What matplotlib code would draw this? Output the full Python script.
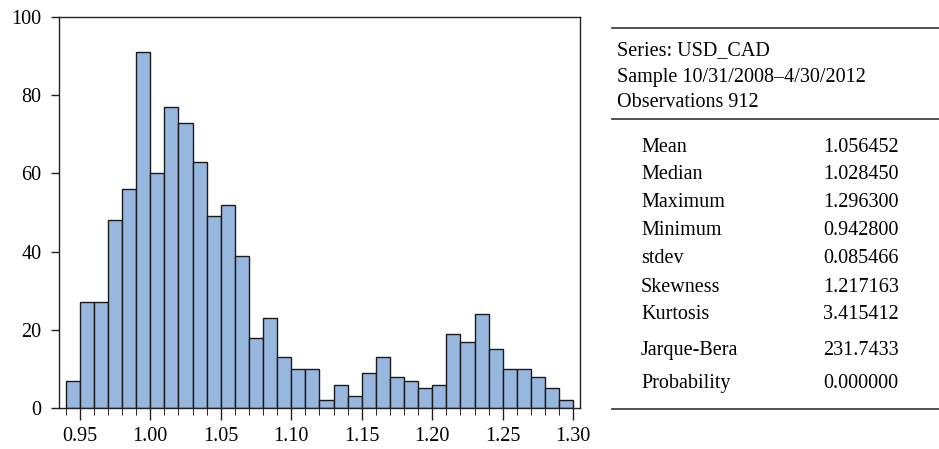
import numpy as np
import matplotlib
matplotlib.use("Agg")
import matplotlib.pyplot as plt
from matplotlib.lines import Line2D
from matplotlib.ticker import MultipleLocator

# histogram of USD_CAD, bins of width 0.01 starting at 0.94
counts = [7, 27, 27, 48, 56, 91, 60, 77, 73, 63, 49, 52, 39, 18, 23, 13, 10, 10,
          2, 6, 3, 9, 13, 8, 7, 5, 6, 19, 17, 24, 15, 10, 10, 8, 5, 2]
bin_start = 0.94
bin_width = 0.01
bin_left = bin_start + bin_width * np.arange(len(counts))

header_lines = ["Series: USD_CAD", "Sample 10/31/2008\u20134/30/2012", "Observations 912"]
stat_names = ["Mean", "Median", "Maximum", "Minimum", "stdev", "Skewness",
              "Kurtosis", "Jarque-Bera", "Probability"]
stat_values = ["1.056452", "1.028450", "1.296300", "0.942800", "0.085466",
               "1.217163", "3.415412", "231.7433", "0.000000"]

W, H = 939, 449
plt.rcParams['font.family'] = ['Liberation Serif', 'DejaVu Serif']
fig = plt.figure(figsize=(W / 100, H / 100), dpi=100)

ax = fig.add_axes([59 / W, 1 - 408 / H, (580 - 59) / W, (408 - 17) / H])
ax.bar(bin_left, counts, width=bin_width, align='edge', color='#98b7df',
       edgecolor='#1a1a1a', linewidth=1.0)
ax.set_xlim(0.9353, 1.3048)
ax.set_ylim(0, 100)
ax.set_xticks([0.95, 1.00, 1.05, 1.10, 1.15, 1.20, 1.25, 1.30])
ax.set_xticklabels(["0.95", "1.00", "1.05", "1.10", "1.15", "1.20", "1.25", "1.30"])
ax.xaxis.set_minor_locator(MultipleLocator(0.01))
ax.set_yticks([0, 20, 40, 60, 80, 100])
ax.tick_params(axis='both', labelsize=14.5, color='#222222', width=1.0)
ax.tick_params(axis='x', which='major', length=8.5, pad=5.5)
ax.tick_params(axis='x', which='minor', length=5)
ax.tick_params(axis='y', length=6, pad=6.5)
for s in ax.spines.values():
    s.set_linewidth(1.0)
    s.set_color('#222222')


def fx(px):
    return px / W


def fy(py):
    return 1 - py / H


# stats table on the right
for yy in [28, 119, 409]:
    fig.add_artist(Line2D([fx(612), fx(939)], [fy(yy), fy(yy)], color='#333333',
                          linewidth=1.2, transform=fig.transFigure))

header_y = [55, 81.7, 107.3]
for txt, yy in zip(header_lines, header_y):
    fig.text(fx(617), fy(yy), txt, fontsize=14.5, va='baseline', ha='left')

row_y = [151.7, 179.3, 207.3, 235.3, 263.3, 291.7, 319.3, 355.3, 387.7]
for name, val, yy in zip(stat_names, stat_values, row_y):
    fig.text(fx(641), fy(yy), name, fontsize=14.5, va='baseline', ha='left')
    fig.text(fx(823), fy(yy), val, fontsize=14.5, va='baseline', ha='left')

fig.savefig("out.png", dpi=100)
